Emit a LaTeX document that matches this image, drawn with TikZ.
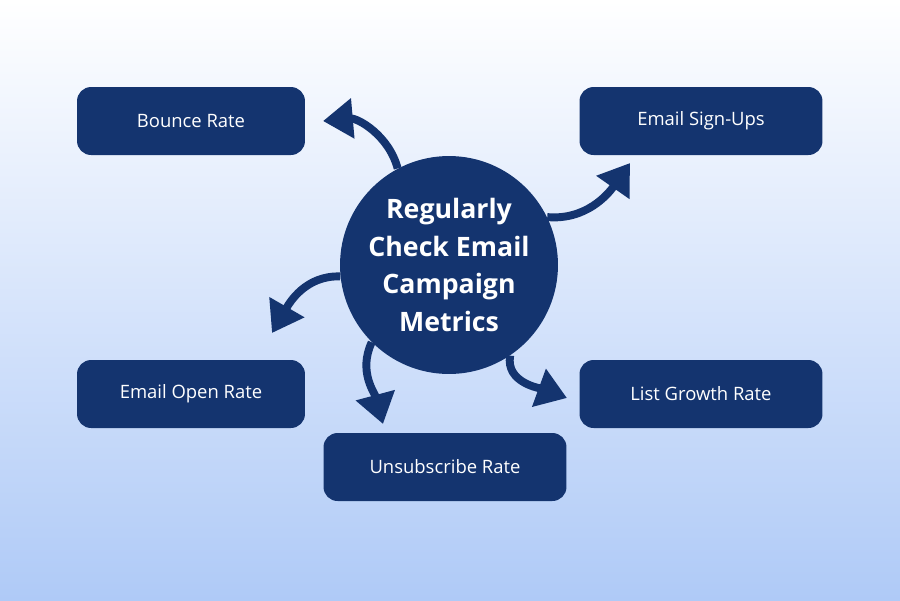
\documentclass[tikz,border=0pt]{standalone}
\usepackage{fontspec}
\setmainfont{Open Sans}
\usepackage{tikz}
\usetikzlibrary{arrows.meta,positioning,shapes.geometric}
\definecolor{navy}{HTML}{14346F}
\definecolor{skytop}{HTML}{FFFFFF}
\definecolor{skybot}{HTML}{AFCAF7}
\tikzset{
  metric/.style={draw=none, fill=navy, rounded corners=8pt, text=white, align=center,
    minimum width=4.56cm, minimum height=1.36cm, inner sep=2pt, font=\fontsize{10.5}{12}\selectfont},
  wmetric/.style={metric, minimum width=4.86cm},
  hub/.style={circle, fill=navy, text=white, align=center, minimum size=4.36cm, inner sep=0pt,
    font=\fontsize{15.2}{21.5}\selectfont\bfseries},
  ar/.style={-{Triangle[length=17pt, width=22pt]}, line width=4.5pt, draw=navy},
}
\begin{document}
\begin{tikzpicture}[x=0.02cm, y=-0.02cm]
  % background
  \shade[top color=skytop, bottom color=skybot] (0,0) rectangle (900,600);
  \useasboundingbox (0,0) rectangle (900,600);

  % centre
  \node[hub] (check) at (449,265) {Regularly\\Check Email\\Campaign\\Metrics};

  % metrics
  \node[metric] (bounce) at (191,121) {Bounce Rate};
  \node[wmetric] (signup) at (701,121) {Email Sign-Ups};
  \node[metric] (open) at (191,394) {Email Open Rate};
  \node[wmetric] (growth) at (701,394) {List Growth Rate};
  \node[wmetric] (unsub) at (445,467) {Unsubscribe Rate};

  % arrow tips
  \coordinate (tbounce) at (323,121);
  \coordinate (tsignup) at (630,163);
  \coordinate (topen) at (272,333);
  \coordinate (tunsub) at (383,424);
  \coordinate (tgrowth) at (567,398);

  \draw[ar] (check.118) to[out=105, in=5] (tbounce);
  \draw[ar] (check.26) to[out=-5, in=235] (tsignup);
  \draw[ar] (check.186) to[out=178, in=60] (topen);
  \draw[ar] (check.225) to[out=245, in=105] (tunsub);
  \draw[ar] (check.304) to[out=-100, in=160] (tgrowth);
\end{tikzpicture}
\end{document}
